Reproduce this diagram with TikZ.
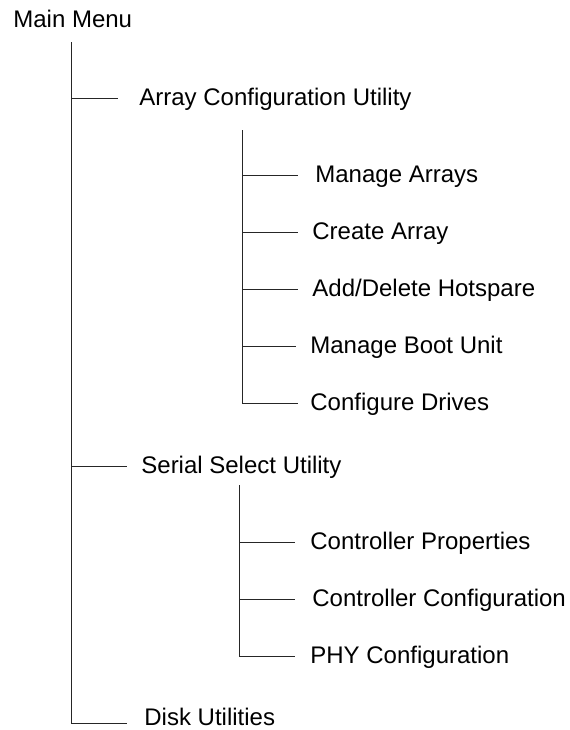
\documentclass[tikz,border=0pt]{standalone}
\usepackage{fontspec}
\setmainfont{Liberation Sans}
\usetikzlibrary{positioning}
\tikzstyle{item}=[anchor=west,inner sep=0pt,text height=0.72em,text depth=0pt,
  			  font=\fontsize{12}{14}\selectfont]
\tikzstyle{line}=[black!85,line width=.5pt]

\begin{document}
\begin{tikzpicture}[x=0.5pt,y=-0.5pt,node distance=28.5pt]
	\useasboundingbox (0,0) rectangle (569,730);
	\node[item] (main) at (13,20.5) {Main Menu};
	\node[item] (acu) at (139,98.5) {Array Configuration Utility};
	\node[item] (ssu) at (141,466) {Serial Select Utility};
	\node[item] (disk) at (144,718) {Disk Utilities};

	\node[item] (ma) at (315,175) {Manage Arrays};
	\node[item,below=of ma.west,anchor=west,xshift=-1.5pt] (ca) {Create Array};
	\node[item,below=of ca.west,anchor=west] (ad) {Add/Delete Hotspare};
	\node[item,below=of ad.west,anchor=west,xshift=-1pt] (mb) {Manage Boot Unit};
	\node[item,below=of mb.west,anchor=west] (cd) {Configure Drives};

	\node[item] (cp) at (310,542) {Controller Properties};
	\node[item,below=of cp.west,anchor=west,xshift=1pt] (cc) {Controller Configuration};
	\node[item,below=of cc.west,anchor=west,xshift=-1pt] (phy) {PHY Configuration};

	\coordinate (t0) at (71,42);
	\coordinate (t1) at (242,130);
	\coordinate (t2) at (239,485);

	\draw[line] (t0) |- ([xshift=-8.5pt,yshift=-2.5pt]disk.west);
	\draw[line] (t0 |- acu.west) -- ([xshift=-10.5pt]acu.west);
	\draw[line] (t0 |- ssu.west) -- ([xshift=-7pt]ssu.west);

	\draw[line] (t1) |- ([xshift=-6pt]cd.west);
	\draw[line] (t1 |- ma.west) -- ([xshift=-8.5pt]ma.west);
	\foreach \n in {ca,ad,mb}
		\draw[line] (t1 |- \n.west) -- ([xshift=-7pt]\n.west);

	\draw[line] (t2) |- ([xshift=-7.5pt]phy.west);
	\draw[line] (t2 |- cp.west) -- ([xshift=-7.5pt]cp.west);
	\draw[line] (t2 |- cc.west) -- ([xshift=-8.5pt]cc.west);
\end{tikzpicture}
\end{document}
